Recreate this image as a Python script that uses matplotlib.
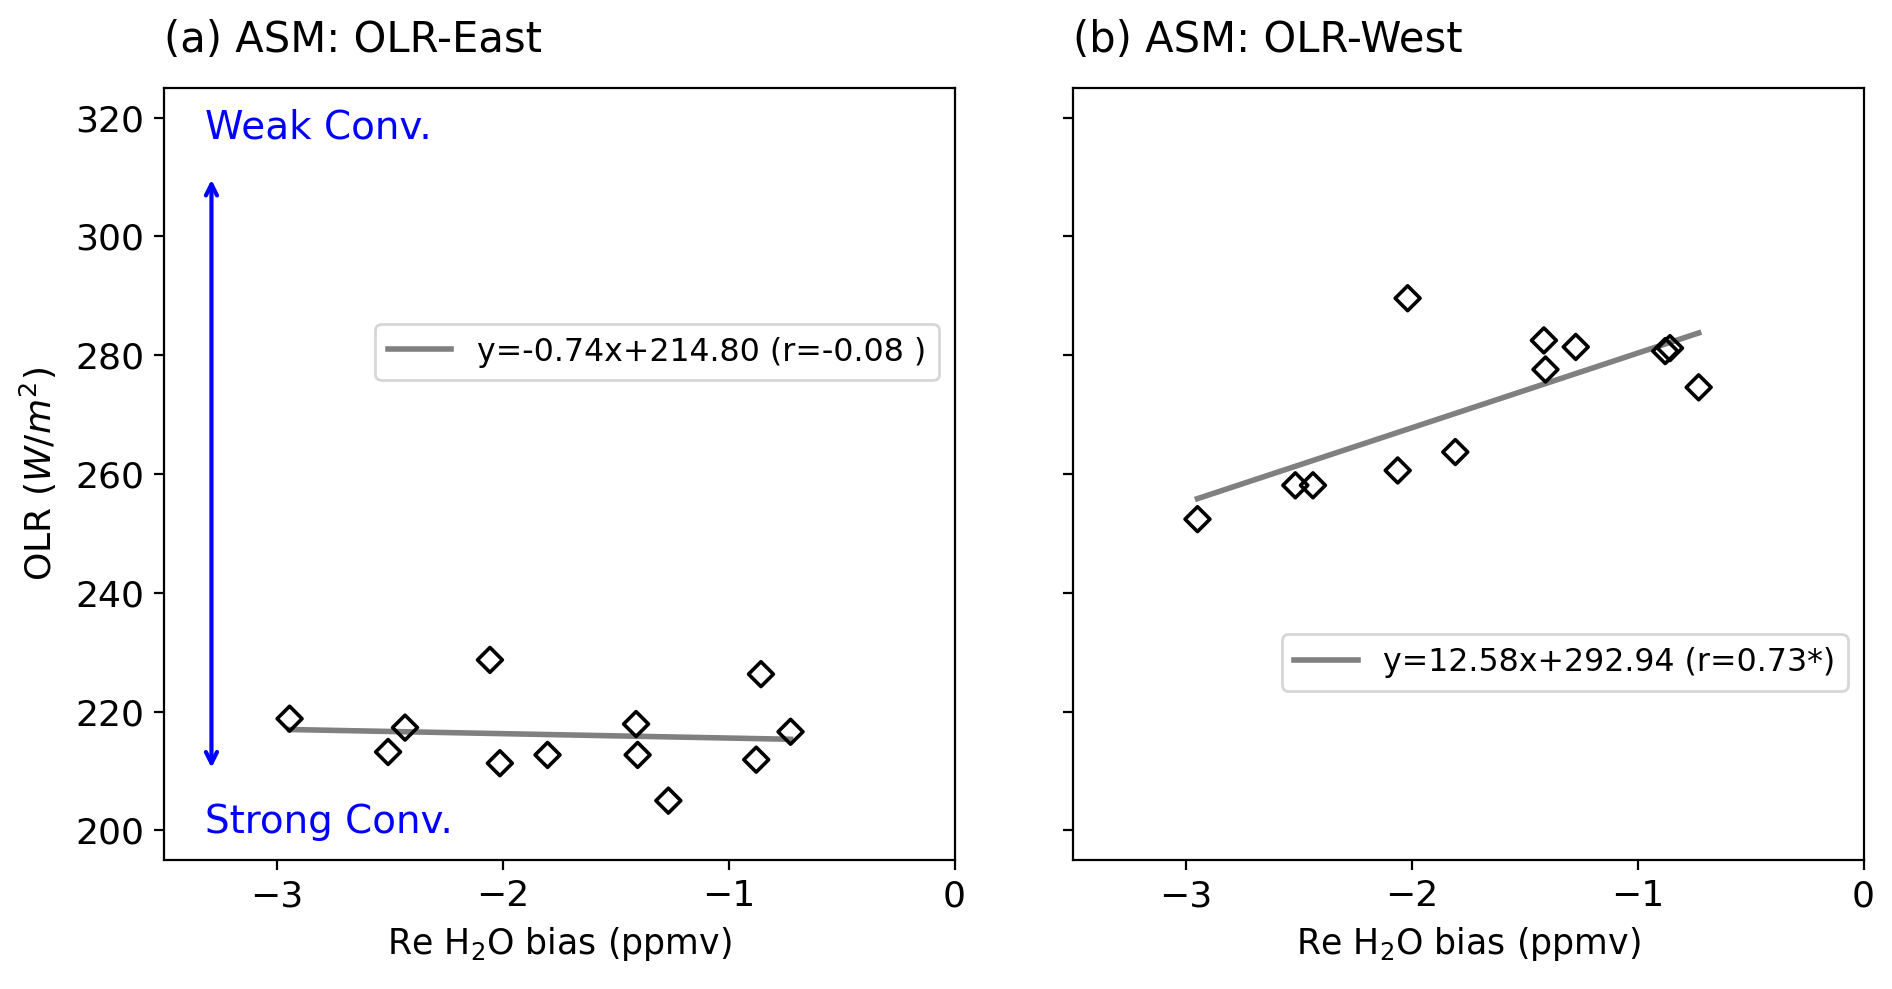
import matplotlib
matplotlib.use("Agg")
import matplotlib.pyplot as plt
import numpy as np

# Data
x_east = [-2.944, -2.508, -2.433, -2.057, -2.013, -1.802, -1.410, -1.403, -1.267, -0.878, -0.857, -0.726]
y_east = [218.8, 213.2, 217.3, 228.7, 211.3, 212.7, 217.9, 212.7, 205.0, 211.9, 226.3, 216.6]

x_west = [-2.948, -2.515, -2.437, -2.062, -2.018, -1.807, -1.415, -1.408, -1.274, -0.878, -0.857, -0.730]
y_west = [252.4, 258.1, 258.1, 260.6, 289.6, 263.7, 282.5, 277.6, 281.4, 280.7, 281.2, 274.6]

fit_east = (-0.74, 214.80, "-0.08 ")
fit_west = (12.58, 292.94, "0.73*")

titles = ["(a) ASM: OLR-East", "(b) ASM: OLR-West"]
xticks = [-3, -2, -1, 0]
yticks = [200, 220, 240, 260, 280, 300, 320]

fig = plt.figure(figsize=(9.46, 4.945), dpi=200)
ax1 = fig.add_axes([0.0867, 0.1304, 0.4178, 0.7806])
ax2 = fig.add_axes([0.567, 0.1304, 0.418, 0.7806], sharey=ax1)

datasets = [(ax1, x_east, y_east, fit_east, titles[0], (1.0, 0.658)),
            (ax2, x_west, y_west, fit_west, titles[1], (1.0, 0.256))]

for ax, xs, ys, (m, b, r), title, anchor in datasets:
    xs = np.array(xs)
    ax.scatter(xs, ys, marker='D', s=40, facecolors='none', edgecolors='black', linewidths=1.3, zorder=3)
    xl = np.array([xs.min(), xs.max()])
    ax.plot(xl, m * xl + b, color='gray', lw=2,
            label=f"y={m:.2f}x+{b:.2f} (r={r})")
    ax.set_xlim(-3.5, 0)
    ax.set_ylim(195, 325)
    ax.set_xticks(xticks)
    ax.set_yticks(yticks)
    ax.tick_params(labelsize=13)
    ax.set_xlabel("Re H$_2$O bias (ppmv)", fontsize=12.5)
    ax.set_title(title, loc='left', fontsize=15, pad=13)
    ax.legend(loc='center right', bbox_to_anchor=anchor, fontsize=11.4)

ax1.set_ylabel("OLR ($W/m^2$)", fontsize=13, labelpad=6)
plt.setp(ax2.get_yticklabels(), visible=False)

ax1.annotate("", xy=(-3.29, 310.5), xytext=(-3.29, 209.6),
             arrowprops=dict(arrowstyle='<->', color='blue', lw=1.5))
ax1.text(-3.32, 316.5, "Weak Conv.", color='blue', fontsize=14)
ax1.text(-3.32, 199.6, "Strong Conv.", color='blue', fontsize=14)

fig.savefig("out.png", dpi=200)
